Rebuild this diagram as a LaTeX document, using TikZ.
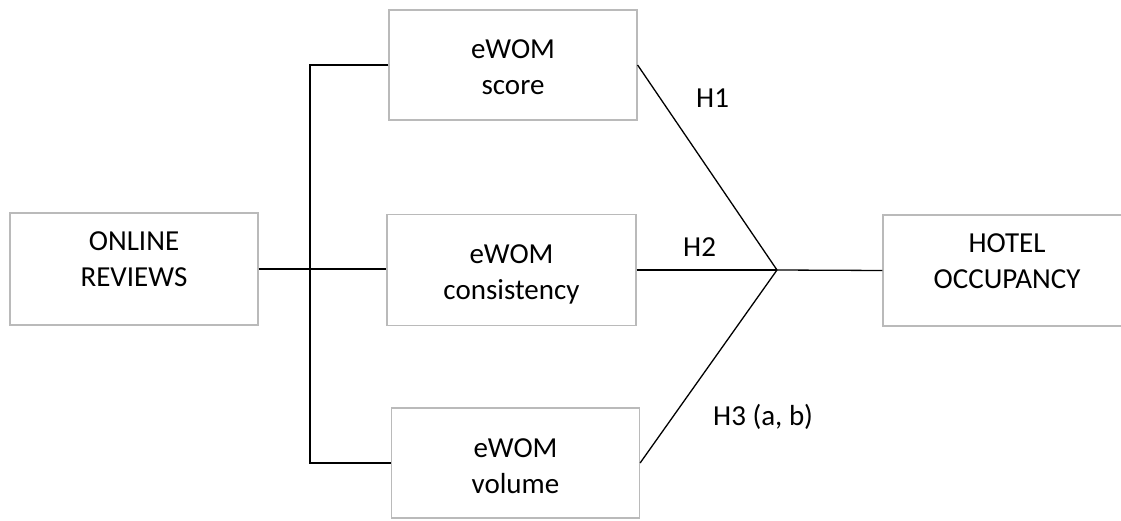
\documentclass[tikz,border=0pt]{standalone}
\usepackage{fontspec}
\setmainfont{Carlito}
\begin{document}
\begin{tikzpicture}[x=1pt,y=-1pt,
  box/.style={draw=black!27,line width=1.2pt,rectangle,minimum width=248pt,minimum height=110pt,inner sep=0pt},
  txt/.style={align=center,inner sep=0pt,font=\fontsize{29}{36}\selectfont},
  hyp/.style={anchor=base west,inner sep=0pt,font=\fontsize{29}{36}\selectfont},
  conn/.style={draw=black,line width=1.3pt}]
\useasboundingbox (0,0) rectangle (1121,521);
\clip (0,0) rectangle (1121,521);
% boxes
\node[box,minimum width=248pt,minimum height=112pt] (or) at (134,269) {};
\node[box] (score) at (513,65) {};
\node[box,minimum width=249pt,minimum height=111pt] (cons) at (511.5,270) {};
\node[box] (volume) at (515.5,463) {};
\node[box,minimum width=300pt,minimum height=111pt] (hotel) at (1033,270.5) {};
% box texts
\node[txt] (ortext) at (134,261) {\strut ONLINE\\\strut REVIEWS};
\node[txt] (scoretext) at (513,69) {\strut eWOM\\\strut score};
\node[txt] (constext) at (511.5,274) {\strut eWOM\\\strut consistency};
\node[txt] (volumetext) at (515.5,468) {\strut eWOM\\\strut volume};
\node[txt] (hoteltext) at (1007,263) {\strut HOTEL\\\strut OCCUPANCY};
% hypothesis labels
\node[hyp] (h1) at (696,108) {H1};
\node[hyp] (h2) at (683,257) {H2};
\node[hyp] (h3) at (713,425) {H3 (a, b)};
% connectors
\coordinate (bt) at (310,65);
\coordinate (bb) at (310,463);
\coordinate (j) at (777,270);
\draw[conn] (or.east) -- (or.east -| cons.west);
\draw[conn] (score.west) -- (bt) -- (bb) -- (volume.west);
\draw[conn] (score.east) -- (j);
\draw[conn] (cons.east) -- (j);
\draw[conn] (volume.east) -- (j);
\draw[conn] (j) -- (hotel.west);
\end{tikzpicture}
\end{document}
